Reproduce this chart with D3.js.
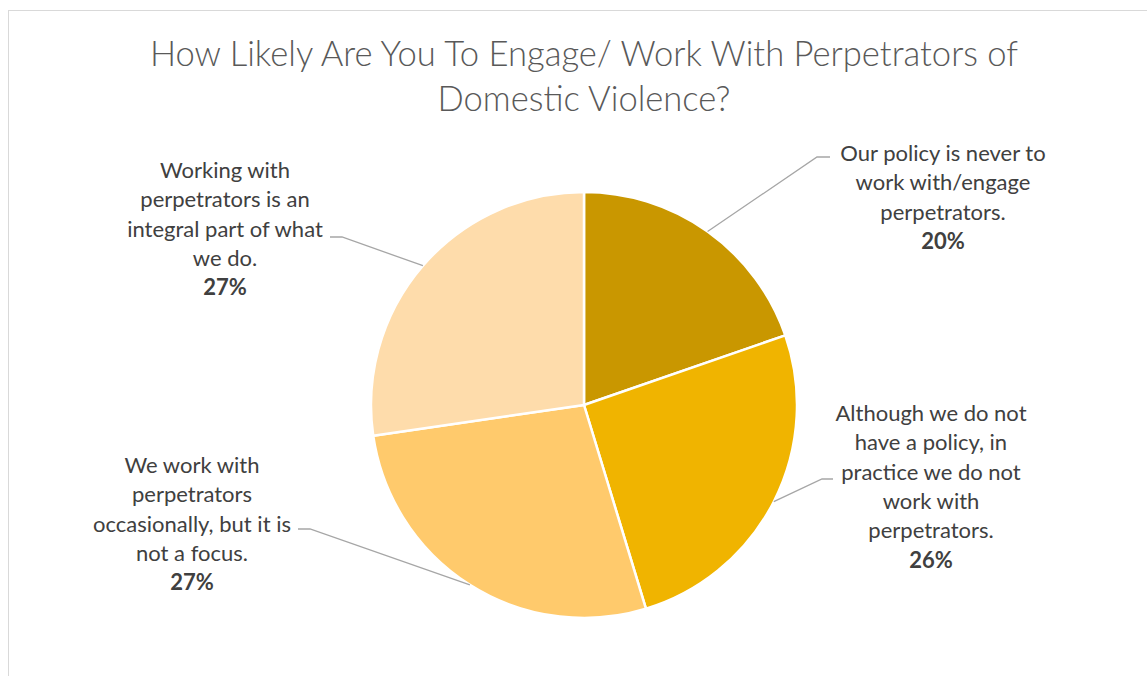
<!DOCTYPE html>
<html>
<head>
<meta charset="utf-8">
<script src="https://cdn.jsdelivr.net/npm/d3@7"></script>
<style>
  body { margin: 0; background: #fff; }
  svg { display: block; }
</style>
</head>
<body>
<div id="chart"></div>
<script>
// chart data
const categories = [
  "Our policy is never to work with/engage perpetrators.",
  "Although we do not have a policy, in practice we do not work with perpetrators.",
  "We work with perpetrators occasionally, but it is not a focus.",
  "Working with perpetrators is an integral part of what we do."
];
const values = [19.7, 25.6, 27.4, 27.3];
const labelLines = [
  ["Our policy is never to", "work with/engage", "perpetrators."],
  ["Although we do not", "have a policy, in", "practice we do not", "work with", "perpetrators."],
  ["We work with", "perpetrators", "occasionally, but it is", "not a focus."],
  ["Working with", "perpetrators is an", "integral part of what", "we do."]
];
const colors = ["#C99700", "#F0B400", "#FFCA6C", "#FEDCAB"];

const width = 1147;
const height = 676;
const cx = 584, cy = 405, radius = 213;

// label layout: text centre x, first line centre y, elbow + end of leader line
const labelLayout = [
  { x: 943, y: 153, elbow: [817, 157], end: [830, 157] },
  { x: 931, y: 413, elbow: [822, 479], end: [833, 479] },
  { x: 192, y: 465, elbow: [310, 529], end: [298, 529] },
  { x: 225, y: 170, elbow: [342, 237], end: [330, 237] }
];
const lineHeight = 29.3;

const svg = d3.select("#chart")
  .append("svg")
  .attr("width", width)
  .attr("height", height);

// chart frame
svg.append("rect")
  .attr("x", 8.5)
  .attr("y", 10.5)
  .attr("width", width + 20)
  .attr("height", height + 20)
  .attr("fill", "none")
  .attr("stroke", "#D9D9D9")
  .attr("stroke-width", 1);

// title
const title = svg.append("text")
  .attr("text-anchor", "middle")
  .attr("fill", "#595959")
  .attr("style", "font-family: Lato, 'Open Sans', sans-serif; font-size: 34.6px; font-weight: 300;");
title.append("tspan").attr("x", 584).attr("y", 66)
  .text("How Likely Are You To Engage/ Work With Perpetrators of");
title.append("tspan").attr("x", 584).attr("y", 111)
  .text("Domestic Violence?");

const pie = d3.pie().sort(null).value(d => d);
const arcs = pie(values);
const arc = d3.arc().innerRadius(0).outerRadius(radius);

const g = svg.append("g").attr("transform", `translate(${cx},${cy})`);

g.selectAll("path")
  .data(arcs)
  .enter()
  .append("path")
  .attr("d", arc)
  .attr("fill", (d, i) => colors[i])
  .attr("stroke", "#fff")
  .attr("stroke-width", 2.5)
  .attr("stroke-linejoin", "round");

const total = d3.sum(values);

// leader lines
svg.selectAll(".leader")
  .data(arcs)
  .enter()
  .append("polyline")
  .attr("class", "leader")
  .attr("points", (d, i) => {
    const a = (d.startAngle + d.endAngle) / 2;
    const sx = cx + radius * Math.sin(a);
    const sy = cy - radius * Math.cos(a);
    const l = labelLayout[i];
    return [[sx, sy], l.elbow, l.end].map(p => p.join(",")).join(" ");
  })
  .attr("fill", "none")
  .attr("stroke", "#A6A6A6")
  .attr("stroke-width", 1.3);

// labels
arcs.forEach((d, i) => {
  const l = labelLayout[i];
  const t = svg.append("text")
    .attr("text-anchor", "middle")
    .attr("fill", "#404040")
    .attr("style", "font-family: Lato, 'Open Sans', sans-serif; font-size: 22px;");
  labelLines[i].forEach((line, j) => {
    t.append("tspan")
      .attr("x", l.x)
      .attr("y", l.y + j * lineHeight + 8)
      .text(line);
  });
  t.append("tspan")
    .attr("x", l.x)
    .attr("y", l.y + labelLines[i].length * lineHeight + 8)
    .attr("font-weight", "bold")
    .text(Math.round(d.value / total * 100) + "%");
});
</script>
</body>
</html>
